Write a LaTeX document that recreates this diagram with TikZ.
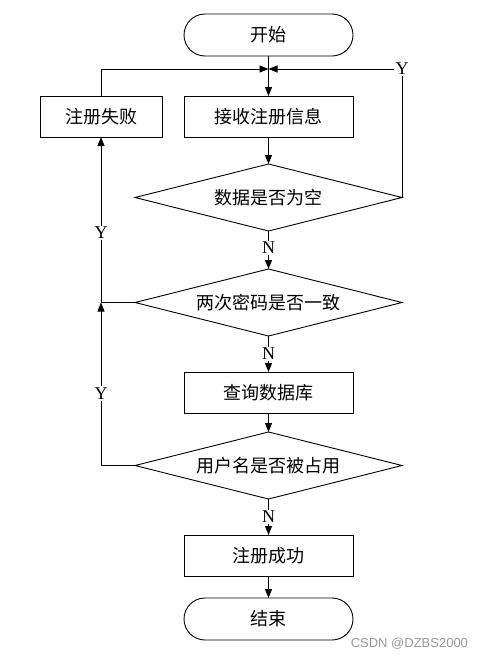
\documentclass[tikz,border=0pt]{standalone}
\usepackage{fontspec}
\setmainfont{Liberation Serif}
\newfontfamily\cjk{Noto Sans CJK SC}
\newfontfamily\markfont{Liberation Sans}
\usetikzlibrary{shapes.geometric,arrows.meta,positioning}

\begin{document}
\begin{tikzpicture}[x=1pt, y=1pt, line width=0.9pt,
  every node/.style={outer sep=0pt, font=\cjk\fontsize{18}{20}\selectfont},
  term/.style={draw, rectangle, rounded corners=21pt, minimum width=169pt, minimum height=42pt},
  proc/.style={draw, rectangle, minimum width=169pt, minimum height=41pt},
  decide/.style={draw, diamond, aspect=4, inner sep=0pt, minimum width=267pt, minimum height=67pt},
  yn/.style={fill=white, inner sep=1.5pt, font=\fontsize{18}{20}\selectfont},
  arr/.style={-{Triangle[length=9pt,width=7pt]}}]
\useasboundingbox (0,0) rectangle (484,-659);

\node[term] (start) at (268.5,-35) {开始};
\node[proc] (input) [below=40pt of start] {接收注册信息};
\node[proc, minimum width=122pt] (fail) [left=22pt of input] {注册失败};
\node[decide] (empty) [below=27pt of input] {数据是否为空};
\node[decide] (match) [below=38pt of empty] {两次密码是否一致};
\node[proc] (query) [below=36pt of match] {查询数据库};
\node[decide] (taken) [below=19pt of query] {用户名是否被占用};
\node[proc] (ok) [below=36pt of taken] {注册成功};
\node[term] (finish) [below=22pt of ok] {结束};
\node[font=\markfont\fontsize{13}{15}\selectfont, text=black!40, anchor=east, inner sep=0pt] (mark) at (468,-644) {CSDN @DZBS2000};

\coordinate[above=27pt of input.north] (join);
\coordinate (corner) at (empty.east |- join);

\draw[arr] (start) -- (input);
\draw[arr] (fail) |- (join);
\draw[arr] (empty.east) -- (corner) node[yn] {Y} -- (join);
\draw[arr] (input) -- (empty);
\draw[arr] (empty) -- node[yn, pos=0.45] {N} (match);
\draw[arr] (match.west) -| node[yn, pos=0.71] {Y} (fail.south);
\draw[arr] (match) -- node[yn] {N} (query);
\draw[arr] (query) -- (taken);
\draw[arr] (taken.west) -| node[yn, pos=0.72] {Y} (match.west -| fail.south);
\draw[arr] (taken) -- node[yn] {N} (ok);
\draw[arr] (ok) -- (finish);
\end{tikzpicture}
\end{document}
